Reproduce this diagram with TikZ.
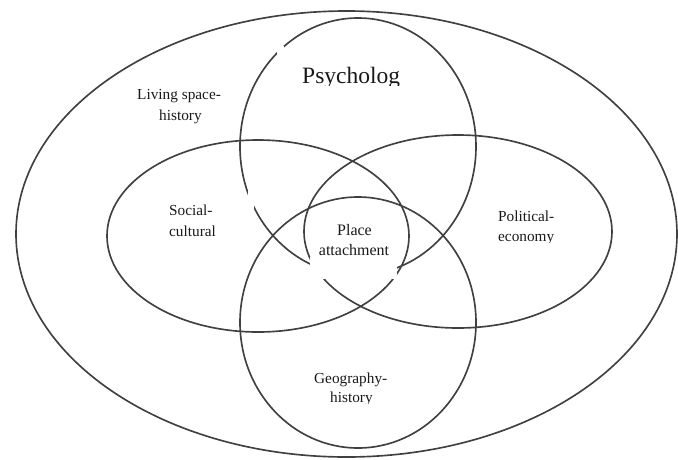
\documentclass[tikz,border=0pt]{standalone}
\usepackage{fontspec}
\setmainfont{Liberation Serif}
\begin{document}
\begin{tikzpicture}[x=1pt,y=-1pt,
  ring/.style={draw=black!75, line width=1.65pt},
  lbl/.style={font=\fontsize{15.3}{20}\selectfont, inner sep=0pt, text=black!90},
  biglbl/.style={font=\fontsize{23.5}{28}\selectfont, inner sep=0pt, text=black!90},
  midlbl/.style={font=\fontsize{16}{20}\selectfont, inner sep=0pt, text=black!90},
  patch/.style={fill=white}
]
\useasboundingbox (0,0) rectangle (678,459);
% sets
\draw[ring] (346.5,234) ellipse [x radius=330.5, y radius=223];
\draw[ring] (358,146.5) ellipse [x radius=118, y radius=128.5];
\draw[ring] (358,322.5) ellipse [x radius=118, y radius=125.5];
\draw[ring] (258,236) ellipse [x radius=151, y radius=96];
\draw[ring] (458,231.5) ellipse [x radius=154, y radius=96.5];
% erased parts of lines as in the picture
\fill[patch] (310,257) rectangle (397,279);
\fill[patch] (248,188) rectangle (254,225);
\fill[patch] (277,46) rectangle (284,54);
% labels
\begin{scope}
  \clip (290,40) rectangle (420,85);
  \node[biglbl, anchor=base west] (psy) at (302,83) {Psycholog};
\end{scope}
\node[lbl, anchor=base west] (liv1) at (137,99) {Living space-};
\node[lbl, anchor=base west] (liv2) at (159,120) {history};
\node[lbl, anchor=base west] (soc1) at (169,215.7) {Social-};
\node[lbl, anchor=base west] (soc2) at (169,236.7) {cultural};
\node[lbl, anchor=base west] (pol1) at (498,221) {Political-};
\begin{scope}
  \clip (490,225) rectangle (570,242);
  \node[lbl, anchor=base west] (pol2) at (498,241) {economy};
\end{scope}
\node[midlbl, anchor=base] (pla1) at (354.5,235) {Place};
\node[midlbl, anchor=base] (pla2) at (354,255) {attachment};
\node[lbl, anchor=base west] (geo1) at (314,383) {Geography-};
\begin{scope}
  \clip (320,385) rectangle (390,403.5);
  \node[lbl, anchor=base west] (geo2) at (330,402) {history};
\end{scope}
\end{tikzpicture}
\end{document}
